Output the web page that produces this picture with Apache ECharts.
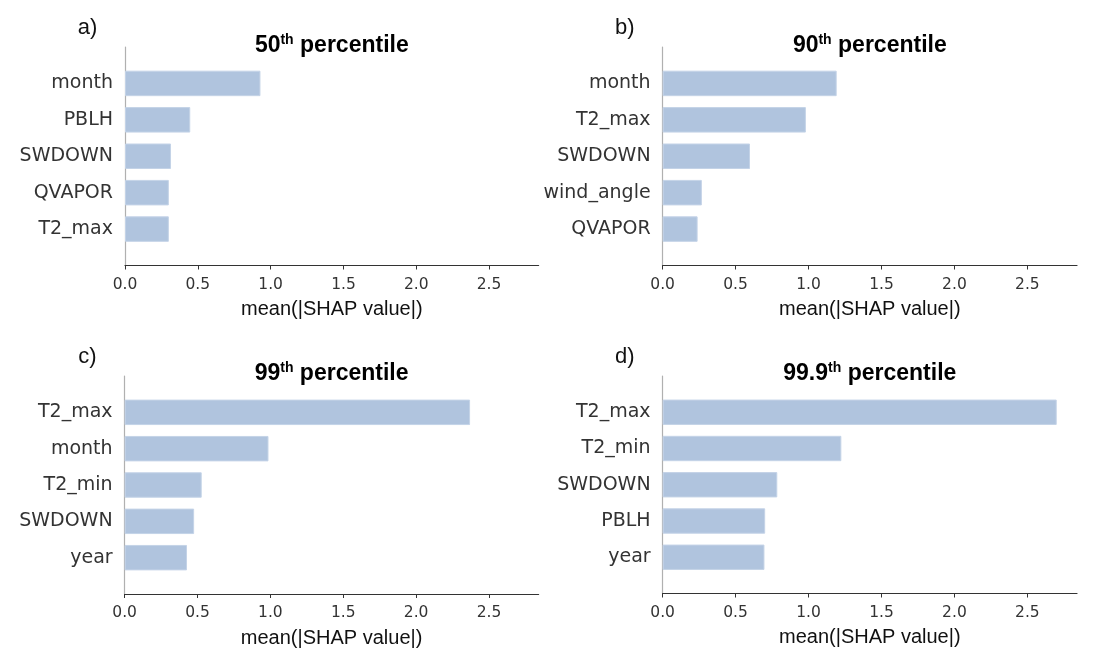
<!DOCTYPE html>
<html><head><meta charset="utf-8">
<script src="https://cdn.jsdelivr.net/npm/echarts@6/dist/echarts.min.js"></script>
<style>html,body{margin:0;padding:0;background:#fff}#c{width:1094px;height:661px}</style>
</head><body><div id="c"></div>
<script>
const panelLabels = ['a)', 'b)', 'c)', 'd)'];
const titleNums = ['50', '90', '99', '99.9'];
const catsA = ['month', 'PBLH', 'SWDOWN', 'QVAPOR', 'T2_max'];
const valsA = [0.930, 0.448, 0.316, 0.301, 0.301];
const catsB = ['month', 'T2_max', 'SWDOWN', 'wind_angle', 'QVAPOR'];
const valsB = [1.193, 0.982, 0.599, 0.269, 0.240];
const catsC = ['T2_max', 'month', 'T2_min', 'SWDOWN', 'year'];
const valsC = [2.370, 0.987, 0.529, 0.477, 0.428];
const catsD = ['T2_max', 'T2_min', 'SWDOWN', 'PBLH', 'year'];
const valsD = [2.701, 1.225, 0.786, 0.703, 0.698];
const xTicks = [0, 0.5, 1, 1.5, 2, 2.5];
const xMax = 2.84;
const xName = 'mean(|SHAP value|)';

const allCats = [catsA, catsB, catsC, catsD];
const allVals = [valsA, valsB, valsC, valsD];

// layout
const grids = [
  {left: 125, top: 47, width: 413.6, height: 218.5},
  {left: 662.6, top: 47, width: 414.4, height: 218.5},
  {left: 124.6, top: 376, width: 414, height: 218},
  {left: 662.6, top: 376, width: 414.4, height: 217.5}
];
const labelPos = [[87.5, 28], [624.8, 28], [87.5, 356.5], [624.8, 356.5]];
const titleY = [46, 46, 374, 374];

const titles = [];
panelLabels.forEach((t, i) => {
  titles.push({
    text: t, left: labelPos[i][0], top: labelPos[i][1], padding: 0,
    textAlign: 'center', textVerticalAlign: 'middle',
    textStyle: {fontFamily: 'Liberation Sans', fontWeight: 'normal', fontSize: 22, color: '#111'}
  });
});
titleNums.forEach((n, i) => {
  const g = grids[i];
  titles.push({
    text: '{b|' + n + '}{s|th}{b| percentile}',
    left: g.left + g.width / 2, top: titleY[i], padding: 0,
    textAlign: 'center', textVerticalAlign: 'middle',
    textStyle: {
      rich: {
        b: {fontFamily: 'Liberation Sans', fontWeight: 'bold', fontSize: 23, lineHeight: 26, color: '#000'},
        s: {fontFamily: 'Liberation Sans', fontWeight: 'bold', fontSize: 14, lineHeight: 14, verticalAlign: 'top', color: '#000'}
      }
    }
  });
});

const xAxes = [], yAxes = [], series = [];
grids.forEach((g, i) => {
  xAxes.push({
    gridIndex: i, type: 'value', min: 0, max: xMax,
    name: xName, nameLocation: 'middle', nameGap: 34,
    nameTextStyle: {fontFamily: 'Liberation Sans', fontSize: 20, color: '#111'},
    axisLine: {show: true, lineStyle: {color: '#333', width: 1.2}},
    axisTick: {show: true, length: 4, lineStyle: {color: '#333'}, customValues: xTicks},
    axisLabel: {fontFamily: 'DejaVu Sans', fontSize: 15.5, color: '#333', margin: 11,
      customValues: xTicks, formatter: v => v.toFixed(1)},
    splitLine: {show: false}
  });
  yAxes.push({
    gridIndex: i, type: 'category', inverse: true, boundaryGap: false,
    data: [''].concat(allCats[i]).concat(['']),
    axisLine: {show: true, lineStyle: {color: '#b0b0b0', width: 1.2}},
    axisTick: {show: false},
    axisLabel: {fontFamily: 'DejaVu Sans', fontSize: 19, color: '#333', margin: 12, padding: [3, 0, 0, 0]},
    splitLine: {show: false}
  });
  series.push({
    type: 'bar', xAxisIndex: i, yAxisIndex: i,
    data: [null].concat(allVals[i]).concat([null]),
    barWidth: '70%',
    itemStyle: {color: '#b0c4de', borderColor: '#c4d3e7', borderWidth: 1},
    silent: true
  });
});

const chart = echarts.init(document.getElementById('c'), null, {renderer: 'canvas'});
chart.setOption({
  animation: false,
  backgroundColor: '#fff',
  title: titles,
  grid: grids,
  xAxis: xAxes,
  yAxis: yAxes,
  series: series
});
</script>
</body></html>
